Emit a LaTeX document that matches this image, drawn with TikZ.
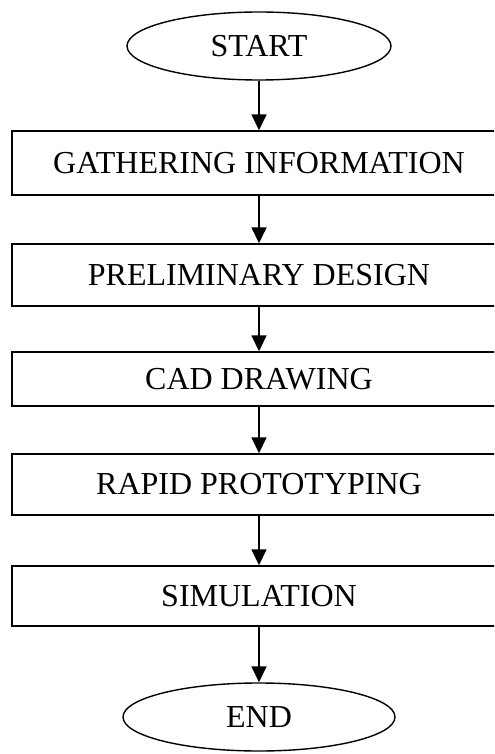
\documentclass[tikz,border=0pt]{standalone}
\usepackage{fontspec}
\setmainfont{Liberation Serif}
\usetikzlibrary{arrows.meta,shapes.geometric}

\begin{document}
\begin{tikzpicture}[x=0.5pt,y=-0.5pt,
  every node/.style={font=\fontsize{16}{19}\selectfont},
  stepbox/.style={draw,line width=0.7pt,minimum width=247pt,inner sep=0pt},
  termnode/.style={draw,ellipse,line width=0.7pt,minimum width=132pt,minimum height=34pt,inner sep=0pt},
  flow/.style={-{Triangle[width=7.5pt,length=8pt]},line width=0.8pt}]
\clip (0,0) rectangle (494,754);
\node[termnode] (start) at (259,46) {START};
\node[stepbox,minimum height=32pt] (gather) at (259,163) {GATHERING INFORMATION};
\node[stepbox,minimum height=31pt] (prelim) at (259,275) {PRELIMINARY DESIGN};
\node[stepbox,minimum height=27pt] (cad) at (259,379) {CAD DRAWING};
\node[stepbox,minimum height=30.5pt] (proto) at (259,484.5) {RAPID PROTOTYPING};
\node[stepbox,minimum height=30pt] (sim) at (259,596) {SIMULATION};
\node[termnode,minimum width=136pt] (end) at (259,717) {END};
\draw[flow] (start) -- (gather);
\draw[flow] (gather) -- (prelim);
\draw[flow] (prelim) -- (cad);
\draw[flow] (cad) -- (proto);
\draw[flow] (proto) -- (sim);
\draw[flow] (sim) -- (end);
\end{tikzpicture}
\end{document}
